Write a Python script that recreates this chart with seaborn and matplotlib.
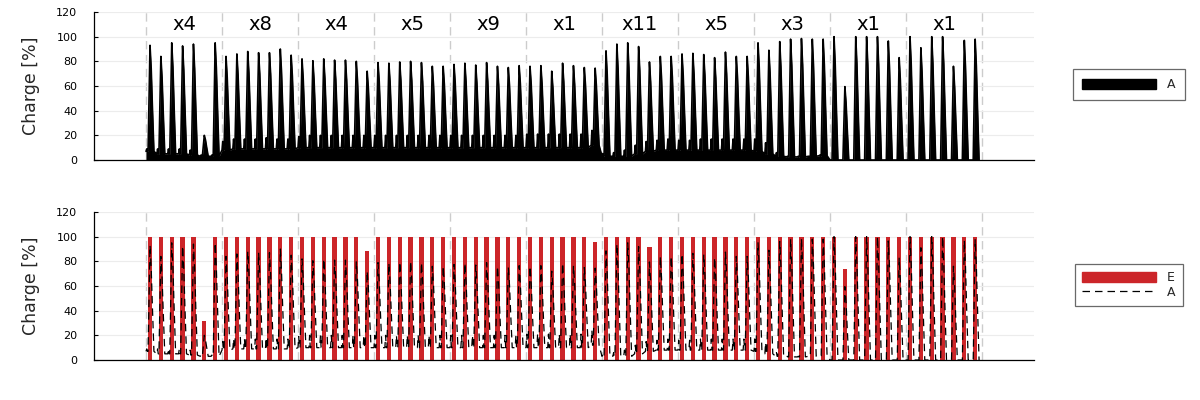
import matplotlib
matplotlib.use("Agg")
import matplotlib.pyplot as plt
import numpy as np
import pandas as pd
import seaborn as sns
from matplotlib.patches import Patch
from matplotlib.lines import Line2D

# ---------------- data ----------------
section_labels = ["x4", "x8", "x4", "x5", "x9", "x1", "x11", "x5", "x3", "x1", "x1"]
days_per_section = 7

# daily peak of series A (charge, %)
peaks_A = [93, 84, 95, 92.5, 94, 20, 95,
           84, 86, 88, 87, 87, 90, 85,
           82, 80.5, 82, 81, 81, 80, 72,
           79, 78.5, 79.5, 80, 79, 76, 76,
           77.5, 78.5, 77, 79, 76, 75, 76.5,
           76, 76.5, 72, 78.5, 76.5, 75, 74.5,
           88.5, 94, 95, 92, 79.5, 84, 84,
           86, 86.5, 85.5, 83, 87.5, 84, 84,
           95, 89, 96, 98, 98.5, 98, 98,
           100, 59.5, 100, 100, 100, 96.5, 83,
           100, 91, 100, 100, 76, 97, 98]
# daily low level of series A
troughs_A = [7, 5, 5, 5, 4, 3, 3,
             8, 9, 9, 9, 9, 9, 9,
             10, 10, 10, 10, 10, 10, 10,
             10, 10, 10, 10, 10, 10, 10,
             10, 10, 10, 10, 10, 10, 10,
             10, 10, 10, 10, 10, 10, 12,
             3, 3, 3, 5, 7, 8, 8,
             8, 8, 8, 8, 8, 8, 8,
             7, 5, 3, 2.5, 2.5, 3, 3.5,
             0, 0, 0, 0, 0, 0, 0,
             0, 0, 0, 0, 0, 0, 0]
# small daily bump of series A before the peak
bumps_A = [9, 9, 9, 9, 8, 4, 4,
           15, 17, 17, 17, 18, 17, 17,
           19, 20, 20, 20, 20, 20, 20,
           20, 20, 20, 20, 20, 20, 20,
           20, 20, 20, 20, 20, 20, 20,
           21, 21, 21, 21, 21, 21, 24,
           5, 6, 8, 12, 15, 16, 17,
           16, 16, 17, 17, 17, 17, 17,
           17, 14, 6, 3, 3, 3, 4,
           0, 0, 0, 0, 0, 0, 0,
           0, 0, 0, 0, 0, 0, 0]
# daily peak of series E
peaks_E = [100, 100, 100, 100, 100, 32, 100,
           100, 100, 100, 100, 100, 100, 100,
           100, 100, 100, 100, 100, 100, 88,
           100, 100, 100, 100, 100, 100, 100,
           100, 100, 100, 100, 100, 100, 100,
           100, 100, 100, 100, 100, 100, 96,
           100, 100, 100, 100, 92, 100, 100,
           100, 100, 100, 100, 100, 100, 100,
           100, 100, 100, 100, 100, 100, 100,
           100, 74, 100, 100, 100, 100, 100,
           100, 100, 100, 100, 100, 100, 100]

# ---------------- build series ----------------
# daily profile: (time offset in day, level used, share of rise to peak)
profile = [(0.00, "tr", 0.0), (0.07, "bu", 0.0), (0.13, "tr", 0.0),
           (0.19, "tr", 0.0), (0.37, "pk", 1.0), (0.48, "pk", 0.78),
           (0.59, "pk", 0.42), (0.73, "tr", 0.0)]
peak_offset = 0.37
t, a = [], []
for d, (tr, bu, pk) in enumerate(zip(troughs_A, bumps_A, peaks_A)):
    for off, kind, w in profile:
        if kind == "tr":
            v = tr
        elif kind == "bu":
            v = bu
        else:
            v = tr + w * (pk - tr)
        t.append(d + off)
        a.append(v)
dfA = pd.DataFrame({"t": t, "A": a})
dfE = pd.DataFrame({"t": np.arange(len(peaks_E)) + peak_offset, "E": peaks_E})

n_sec = len(section_labels)
span = n_sec * days_per_section
margin = 52 / 76 * days_per_section

# ---------------- style ----------------
sns.set_style("white")
plt.rcParams["font.family"] = ["DejaVu Sans"]
RED = "#cc2529"
DASH = (0, (6, 4))

fig = plt.figure(figsize=(12, 4), dpi=100)
ax1 = fig.add_axes([94 / 1200, 1 - 160 / 400, 940 / 1200, 148 / 400])
ax2 = fig.add_axes([94 / 1200, 1 - 360 / 400, 940 / 1200, 148 / 400])

for ax in (ax1, ax2):
    ax.set_xlim(-margin, span + margin)
    ax.set_ylim(0, 120)
    ax.set_yticks(range(0, 121, 20))
    ax.yaxis.grid(True, color="#ececec", lw=0.8)
    ax.xaxis.grid(False)
    ax.set_axisbelow(True)
    ax.set_xticks([])
    for k in range(n_sec + 1):
        ax.axvline(k * days_per_section, color="#cccccc", lw=1.0,
                   ls=(0, (6, 4)), zorder=0.5)
    for s in ("top", "right"):
        ax.spines[s].set_visible(False)
    for s in ("left", "bottom"):
        ax.spines[s].set_color("black")
        ax.spines[s].set_linewidth(0.9)
    ax.tick_params(axis="y", direction="in", length=3, width=0.8, pad=12,
                   labelsize=8, colors="black", left=True)

# top panel: filled A
ax1.fill_between(dfA["t"], 0, dfA["A"], color="black", lw=0, zorder=2)
sns.lineplot(data=dfA, x="t", y="A", ax=ax1, color="black", lw=1.2,
             estimator=None, sort=False, zorder=3)
ax1.set_xlabel("")
ax1.set_ylabel("Charge [%]", fontsize=12.5, labelpad=12)
for k, lab in enumerate(section_labels):
    ax1.text((k + 0.5) * days_per_section, 109.5, lab, ha="center",
             va="center", fontsize=14, color="black")

leg_kw = dict(loc="center", fancybox=False, edgecolor="#444444", fontsize=9,
              handlelength=5.9, handleheight=0.9, handletextpad=0.9)
leg1 = ax1.legend([Patch(facecolor="black", edgecolor="black")], ["A"],
                  bbox_to_anchor=(1.101, 0.51), borderpad=0.75, **leg_kw)
leg1.get_frame().set_linewidth(0.9)

# bottom panel: E bars + dashed A
ax2.bar(dfE["t"], dfE["E"], width=0.4, color=RED, lw=0, zorder=2)
sns.lineplot(data=dfA, x="t", y="A", ax=ax2, color="black", lw=0.9,
             ls=DASH, estimator=None, sort=False, zorder=3)
ax2.set_xlabel("")
ax2.set_ylabel("Charge [%]", fontsize=12.5, labelpad=12)

leg2 = ax2.legend([Patch(facecolor=RED, edgecolor=RED),
                   Line2D([], [], color="black", lw=0.9, ls=DASH)],
                  ["E", "A"], bbox_to_anchor=(1.101, 0.507), borderpad=0.6,
                  labelspacing=0.15, **leg_kw)
leg2.get_frame().set_linewidth(0.9)

fig.savefig("out.png", dpi=100)
